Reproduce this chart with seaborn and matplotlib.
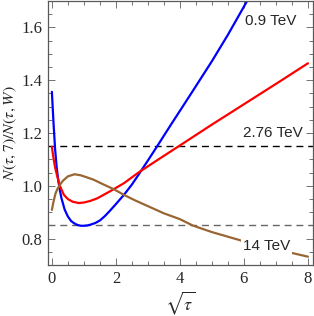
import numpy as np
import pandas as pd
import matplotlib
matplotlib.use('Agg')
import matplotlib.pyplot as plt
from matplotlib.ticker import MultipleLocator
import seaborn as sns

sns.set_style('ticks')
plt.rcParams['font.family'] = ['Liberation Serif', 'DejaVu Serif']
plt.rcParams['mathtext.fontset'] = 'stix'

# values
tau_09 = [0, 0.05, 0.1, 0.15, 0.2, 0.25, 0.3, 0.4, 0.5, 0.6, 0.7, 0.8, 0.9, 1.0,
          1.1, 1.2, 1.35, 1.5, 1.65, 1.8, 2.0, 2.25, 2.5, 2.7, 3.0, 3.3, 3.7, 4.3,
          5.0, 5.5, 6.1]
val_09 = [1.356, 1.24, 1.14, 1.07, 1.02, 0.983, 0.953, 0.91, 0.884, 0.867, 0.858,
          0.852, 0.849, 0.849, 0.850, 0.853, 0.859, 0.869, 0.885, 0.904, 0.931,
          0.966, 1.005, 1.041, 1.096, 1.152, 1.228, 1.340, 1.472, 1.572, 1.70]

tau_276 = [0, 0.05, 0.1, 0.17, 0.25, 0.375, 0.5, 0.65, 0.84, 1.0, 1.2, 1.42, 1.81,
           2.25, 2.7, 3.2, 4.0, 5.0, 6.0, 7.0, 8.0]
val_276 = [1.148, 1.105, 1.07, 1.035, 1.00, 0.966, 0.950, 0.940, 0.935, 0.937, 0.943,
           0.953, 0.979, 1.010, 1.050, 1.090, 1.153, 1.232, 1.309, 1.386, 1.464]

tau_14 = [0, 0.05, 0.115, 0.18, 0.25, 0.35, 0.5, 0.71, 0.9, 1.1, 1.31, 1.6, 1.94,
          2.25, 2.6, 3.06, 3.5, 4.0, 4.4, 5.0, 6.0, 7.0, 8.0]
val_14 = [0.909, 0.94, 0.972, 0.99, 1.004, 1.02, 1.036, 1.044, 1.040, 1.032, 1.023,
          1.006, 0.987, 0.966, 0.945, 0.92, 0.896, 0.874, 0.85, 0.825, 0.79, 0.76, 0.732]

energies = ['0.9 TeV', '2.76 TeV', '14 TeV']
ref_levels = [1.15, 0.85]

df = pd.concat([
    pd.DataFrame({'tau': tau_09, 'ratio': val_09, 'energy': energies[0]}),
    pd.DataFrame({'tau': tau_276, 'ratio': val_276, 'energy': energies[1]}),
    pd.DataFrame({'tau': tau_14, 'ratio': val_14, 'energy': energies[2]}),
])

colors = {'0.9 TeV': (0, 0, 1), '2.76 TeV': (1, 0, 0), '14 TeV': (0.6, 0.4, 0.2)}

fig = plt.figure(figsize=(3.14, 3.16), dpi=100)
ax = fig.add_axes([0.153, 0.161, 0.844, 0.836])

ax.axhline(ref_levels[0], color='black', lw=1.0, dashes=(5, 3.5), zorder=1)
ax.axhline(ref_levels[1], color='0.4', lw=1.0, dashes=(5, 3.5), zorder=1)

sns.lineplot(data=df, x='tau', y='ratio', hue='energy', palette=colors,
             sort=False, lw=1.6, legend=False, ax=ax, zorder=2)

ax.set_xlim(-0.12, 8.16)
ax.set_ylim(0.7, 1.7)

ax.xaxis.set_major_locator(MultipleLocator(2))
ax.xaxis.set_minor_locator(MultipleLocator(0.5))
ax.yaxis.set_major_locator(MultipleLocator(0.2))
ax.yaxis.set_minor_locator(MultipleLocator(0.05))
ax.set_yticks([0.8, 1.0, 1.2, 1.4, 1.6])
ax.set_yticklabels(['0.8', '1.0', '1.2', '1.4', '1.6'])

ax.tick_params(which='both', direction='in', top=True, right=True,
               labeltop=False, labelright=False, color='0.45', width=0.7)
ax.tick_params(which='major', length=5, labelsize=12, pad=4)
ax.tick_params(which='minor', length=2.8)
for s in ax.spines.values():
    s.set_color('0.35')
    s.set_linewidth(0.9)

ax.set_xlabel(r'$\sqrt{\tau}$', fontsize=13, labelpad=2)
ax.set_ylabel(r'$N(\tau,7)/N(\tau,W)$', fontsize=11.5, labelpad=2)

lab_font = ['Liberation Sans', 'DejaVu Sans']
ax.text(6.84, 1.625, '0.9 TeV', family=lab_font, fontsize=11, ha='center', va='center')
ax.text(6.92, 1.20, '2.76 TeV', family=lab_font, fontsize=11, ha='center', va='center')
ax.text(6.7, 0.772, '14 TeV', family=lab_font, fontsize=11, ha='center', va='center',
        bbox=dict(facecolor='white', edgecolor='none', pad=1.5), zorder=3)

fig.savefig('out.png', dpi=100)
